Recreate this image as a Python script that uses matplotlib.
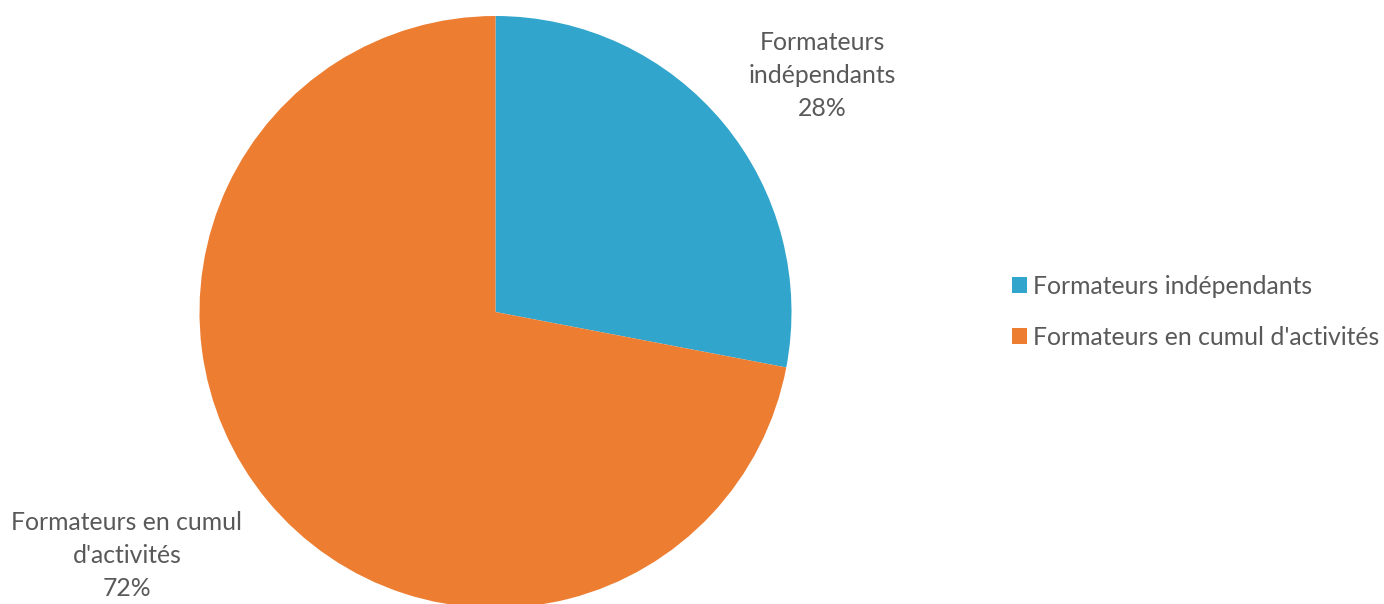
import matplotlib.pyplot as plt
from matplotlib.patches import Patch

categories = ["Formateurs indépendants", "Formateurs en cumul d'activités"]
label_texts = ["Formateurs\nindépendants", "Formateurs en cumul\nd'activités"]
shares = [28, 72]
colors = ["#31A5CB", "#ED7D31"]

plt.rcParams['font.family'] = ['Lato', 'DejaVu Sans']
text_color = "#595959"

fig = plt.figure(figsize=(13.84, 6.04), dpi=100)
# pie centred at (495, 312) px with radius ~296 px
cx, cy, r = 495.5, 312, 296
W, H = 1384, 604
ax = fig.add_axes([(cx - r) / W, (H - cy - r) / H, 2 * r / W, 2 * r / H])
wedges, _ = ax.pie(shares, colors=colors, startangle=90, counterclock=False,
                   radius=1, wedgeprops=dict(linewidth=0))
ax.set_xlim(-1, 1)
ax.set_ylim(-1, 1)
ax.set_aspect('equal')
ax.axis('off')

# data label positions (in pie-radius units)
label_pos = [(1.105, 0.80), (-1.245, -0.822)]
for txt, val, (x, y) in zip(label_texts, shares, label_pos):
    ax.text(x, y, f"{txt}\n{val}%", ha='center', va='center', fontsize=17.8,
            color=text_color, linespacing=1.52, clip_on=False)

handles = [Patch(facecolor=c, edgecolor='none') for c in colors]
fig.legend(handles, categories, loc='center left',
           bbox_to_anchor=(1012 / W, 1 - 312 / H), frameon=False,
           fontsize=17.8, labelcolor=text_color, handlelength=0.6,
           handleheight=0.6, handletextpad=0.25, labelspacing=1.13,
           borderpad=0, borderaxespad=0)

fig.savefig("out.png", dpi=100)
